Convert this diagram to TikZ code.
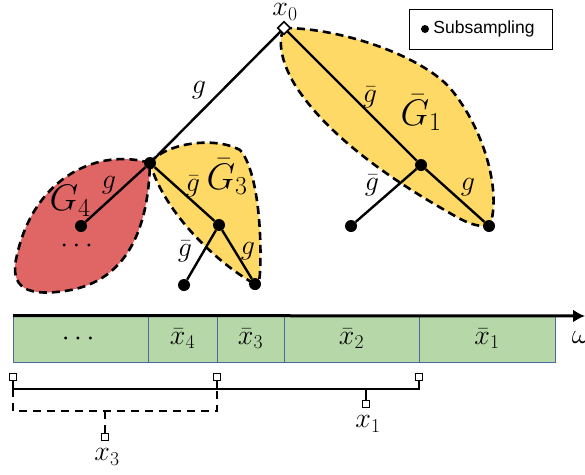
\RequirePackage{fix-cm}
\documentclass[tikz,border=0pt]{standalone}
\usepackage{amsmath,amssymb}
\usepackage{fontspec}
\setsansfont{Liberation Sans}
\usepackage{xcolor}
\usepackage{tikz}
\usetikzlibrary{arrows.meta,positioning,calc,shapes.geometric,backgrounds}
\definecolor{Ink}{HTML}{000000}
\definecolor{LeafRed}{HTML}{E06666}
\definecolor{LeafYellow}{HTML}{FFD966}
\definecolor{BarGreen}{HTML}{B6D7A8}
\definecolor{BarEdge}{HTML}{4A6A9C}
\tikzset{
  branch/.style={draw=Ink,line width=2.4pt},
  blob/.style={draw=Ink,line width=2.6pt,dash pattern=on 8pt off 5pt},
  sample/.style={circle,fill=Ink,inner sep=0pt,minimum size=12pt},
  rootpt/.style={diamond,draw=Ink,fill=white,line width=1.6pt,inner sep=0pt,minimum size=13pt},
  lbl/.style={font=\fontsize{28}{32}\selectfont,inner sep=1pt},
  biglbl/.style={font=\fontsize{37}{42}\selectfont,inner sep=0pt},
  cell/.style={draw=BarEdge,line width=0.9pt,fill=BarGreen,minimum height=47pt,inner sep=0pt,outer sep=0pt,anchor=west,font=\fontsize{28}{32}\selectfont},
  axis/.style={draw=Ink,line width=3pt,-{Latex[length=12pt,width=13pt]}},
  tick/.style={rectangle,draw=Ink,fill=white,line width=1.3pt,inner sep=0pt,minimum size=7pt},
  bracket/.style={draw=Ink,line width=1.5pt},
  legend/.style={draw=Ink,line width=1.4pt,minimum width=143pt,minimum height=40pt,inner sep=0pt}
}
\begin{document}
\begin{tikzpicture}[x=1pt,y=-1pt]
  \useasboundingbox (0,0) rectangle (585,474);
  % tree
  \node[rootpt] (x0) at (284,28) {};
  \node[lbl] (x0lbl) at (285,12) {$x_0$};
  \node[sample] (n3) at (150,163) {};
  \node[sample] (n4) at (81,226) {};
  \node[sample] (m3) at (219,225) {};
  \node[sample] (l3a) at (184,285) {};
  \node[sample] (l3b) at (255,284) {};
  \node[sample] (n1) at (421,165) {};
  \node[sample] (l1a) at (351,226) {};
  \node[sample] (l1b) at (489,226) {};
  \begin{scope}[on background layer]
    \filldraw[blob,fill=LeafRed] (n3.center) .. controls (100,148) and (35,175) .. (17,255)
      .. controls (8,290) and (30,296) .. (65,291)
      .. controls (120,283) and (148,240) .. (n3.center) -- cycle;
    \filldraw[blob,fill=LeafYellow] (n3.center) .. controls (165,143) and (215,136) .. (240,150)
      .. controls (258,170) and (262,235) .. (260,272)
      .. controls (259,292) and (252,292) .. (l3b.center)
      .. controls (220,265) and (165,215) .. (n3.center) -- cycle;
    \filldraw[blob,fill=LeafYellow] (x0.center) .. controls (340,28) and (420,55) .. (450,88)
      .. controls (485,130) and (500,190) .. (491,222)
      .. controls (488,230) and (470,225) .. (455,216)
      .. controls (400,185) and (330,140) .. (295,85)
      .. controls (280,60) and (278,40) .. (x0.center) -- cycle;
  \end{scope}
  \draw[branch] (x0) -- (n3);
  \draw[branch] (n3) -- (n4);
  \draw[branch] (n3) -- (m3);
  \draw[branch] (m3) -- (l3a);
  \draw[branch] (m3) -- (l3b);
  \draw[branch] (x0) -- (n1);
  \draw[branch] (n1) -- (l1a);
  \draw[branch] (n1) -- (l1b);
  \node[lbl] (gx03) at (199,90) {$g$};
  \node[lbl] (g34) at (109,185) {$g$};
  \node[lbl] (gb3) at (193,186) {$\bar g$};
  \node[lbl] (gb3a) at (185,251) {$\bar g$};
  \node[lbl] (g3b) at (248,251) {$g$};
  \node[lbl] (gb1) at (370,97) {$\bar g$};
  \node[lbl] (gb1a) at (372,185) {$\bar g$};
  \node[lbl] (g1b) at (468,187) {$g$};
  \node[biglbl] (G4) at (70,201) {$G_4$};
  \node[biglbl] (G3) at (227,177) {$\bar G_3$};
  \node[biglbl] (G1) at (421,113) {$\bar G_1$};
  \node[lbl] (dots4) at (79,246) {$\cdots$};
  % legend
  \node[legend,anchor=north west] (key) at (409,9) {};
  \node[circle,fill=Ink,inner sep=0pt,minimum size=8pt] (keydot) at (425,29) {};
  \node[right=4pt of keydot,inner sep=0pt,font=\sffamily\fontsize{17.5}{20}\selectfont] (keytxt) {Subsampling};
  % frequency bar
  \node[cell,minimum width=135pt] (c0) at (13,339) {$\cdots$};
  \node[cell,minimum width=69pt,right=0pt of c0] (c4) {$\bar x_4$};
  \node[cell,minimum width=67pt,right=0pt of c4] (c3) {$\bar x_3$};
  \node[cell,minimum width=135pt,right=0pt of c3] (c2) {$\bar x_2$};
  \node[cell,minimum width=136pt,right=0pt of c2] (c1) {$\bar x_1$};
  \coordinate (axend) at (585,316);
  \draw[axis] (c0.north west) -- (axend);
  \node[lbl] (om) at (581,337) {$\omega$};
  % brackets
  \node[tick] (bL) at (13,377) {};
  \node[tick] (bM) at (217,377) {};
  \node[tick] (bR) at (419,377) {};
  \coordinate (jL) at (13,389);
  \coordinate (jM) at (217,389);
  \coordinate (jR) at (419,389);
  \draw[bracket] (bL) -- (jL) -- (jR) -- (bR);
  \draw[bracket] (bM) -- (jM);
  \node[tick] (t1) at (366,404) {};
  \draw[bracket] (t1) -- (t1 |- jL);
  \node[lbl] (x1lbl) at (368,424) {$x_1$};
  \coordinate (dL) at (13,411);
  \coordinate (dM) at (217,411);
  \draw[bracket,dash pattern=on 8pt off 6pt] (jL) -- (dL) -- (dM) -- (jM);
  \node[tick] (t3) at (105,437) {};
  \draw[bracket,dash pattern=on 8pt off 6pt] (t3) -- (t3 |- dL);
  \node[lbl] (x3lbl) at (107,457) {$x_3$};
\end{tikzpicture}
\end{document}
